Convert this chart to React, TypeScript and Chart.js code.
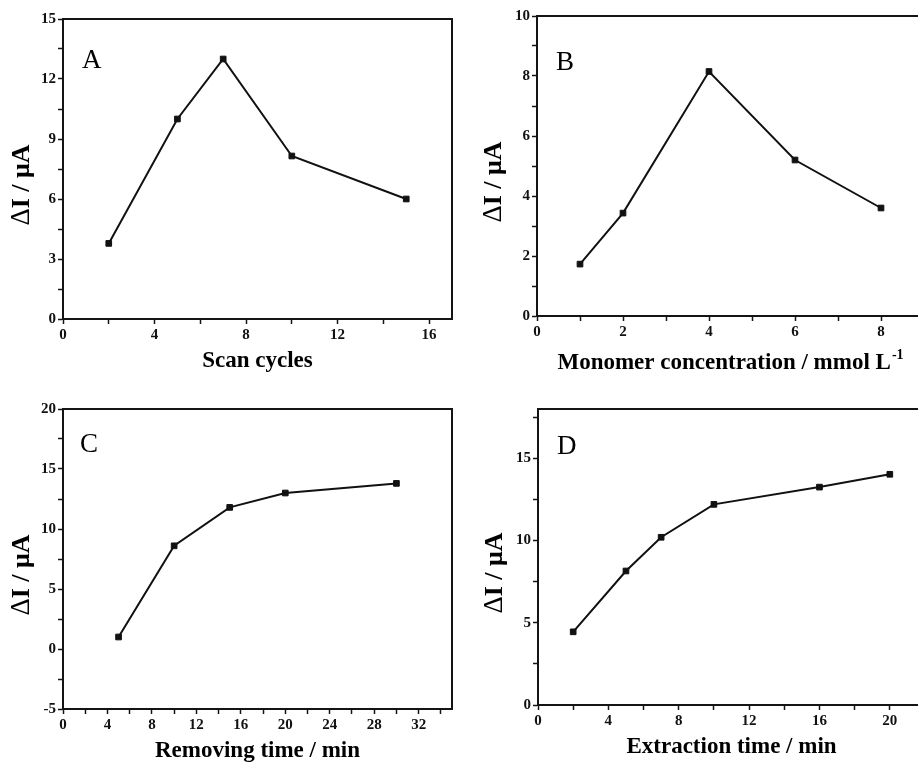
import React, { useEffect, useRef } from "react";
import { Chart, registerables } from "chart.js";

Chart.register(...registerables);

// ---- Data ----
const scanCycles = [2, 5, 7, 10, 15];
const scanCurrent = [3.78, 10.0, 13.0, 8.15, 6.0];

const monomerConc = [1, 2, 4, 6, 8];
const monomerCurrent = [1.73, 3.43, 8.15, 5.2, 3.6];

const removingTime = [5, 10, 15, 20, 30];
const removingCurrent = [1.0, 8.6, 11.8, 13.0, 13.8];

const extractionTime = [2, 5, 7, 10, 16, 20];
const extractionCurrent = [4.45, 8.15, 10.2, 12.2, 13.25, 14.03];

// ---- Tick values ----
const aXMajor = [0, 4, 8, 12, 16];
const aXMinor = [2, 6, 10, 14];
const aYMajor = [0, 3, 6, 9, 12, 15];
const aYMinor = [1.5, 4.5, 7.5, 10.5, 13.5];

const bXMajor = [0, 2, 4, 6, 8];
const bXMinor = [1, 3, 5, 7, 9];
const bYMajor = [0, 2, 4, 6, 8, 10];
const bYMinor = [1, 3, 5, 7, 9];

const cXMajor = [0, 4, 8, 12, 16, 20, 24, 28, 32];
const cXMinor = [2, 6, 10, 14, 18, 22, 26, 30, 34];
const cYMajor = [-5, 0, 5, 10, 15, 20];
const cYMinor = [-2.5, 2.5, 7.5, 12.5, 17.5];

const dXMajor = [0, 4, 8, 12, 16, 20];
const dXMinor = [2, 6, 10, 14, 18];
const dYMajor = [0, 5, 10, 15];
const dYMinor = [2.5, 7.5, 12.5, 17.5];

const yTitleSymbol = "Δ";
const yTitleRest = "I / μA";
const FONT = '"Liberation Serif", "Times New Roman", serif';
const INK = "#141414";

type Panel = {
  letter: string;
  xs: number[];
  ys: number[];
  xMin: number; xMax: number; yMin: number; yMax: number;
  xMajor: number[]; xMinor: number[]; yMajor: number[]; yMinor: number[];
  xTitle: string; xSup?: string;
  left: number; top: number; width: number; height: number;
  padTop: number; padRight: number; yWidth: number; xHeight: number;
  letterDx: number; letterDy: number;
  yTitleX: number; xTitleDy: number;
};

const panels: Panel[] = [
  {
    letter: "A", xs: scanCycles, ys: scanCurrent,
    xMin: 0, xMax: 17, yMin: 0, yMax: 15,
    xMajor: aXMajor, xMinor: aXMinor, yMajor: aYMajor, yMinor: aYMinor,
    xTitle: "Scan cycles",
    left: 0, top: 0, width: 460, height: 380,
    padTop: 19, padRight: 8, yWidth: 63, xHeight: 61,
    letterDx: 19, letterDy: 49, yTitleX: 22, xTitleDy: 48,
  },
  {
    letter: "B", xs: monomerConc, ys: monomerCurrent,
    xMin: 0, xMax: 9, yMin: 0, yMax: 10,
    xMajor: bXMajor, xMinor: bXMinor, yMajor: bYMajor, yMinor: bYMinor,
    xTitle: "Monomer concentration / mmol L", xSup: "-1",
    left: 460, top: 0, width: 475, height: 380,
    padTop: 16, padRight: 11, yWidth: 77, xHeight: 64,
    letterDx: 19, letterDy: 54, yTitleX: 34, xTitleDy: 53,
  },
  {
    letter: "C", xs: removingTime, ys: removingCurrent,
    xMin: 0, xMax: 35, yMin: -5, yMax: 20,
    xMajor: cXMajor, xMinor: cXMinor, yMajor: cYMajor, yMinor: cYMinor,
    xTitle: "Removing time / min",
    left: 0, top: 380, width: 460, height: 383,
    padTop: 29, padRight: 8, yWidth: 63, xHeight: 54,
    letterDx: 17, letterDy: 43, yTitleX: 22, xTitleDy: 48,
  },
  {
    letter: "D", xs: extractionTime, ys: extractionCurrent,
    xMin: 0, xMax: 22, yMin: 0, yMax: 18,
    xMajor: dXMajor, xMinor: dXMinor, yMajor: dYMajor, yMinor: dYMinor,
    xTitle: "Extraction time / min",
    left: 460, top: 380, width: 475, height: 383,
    padTop: 29, padRight: 10, yWidth: 78, xHeight: 58,
    letterDx: 19, letterDy: 45, yTitleX: 35, xTitleDy: 48,
  },
];

function near(list: number[], v: number) {
  return list.some((m) => Math.abs(m - v) < 1e-6);
}

function PanelChart({ p }: { p: Panel }) {
  const ref = useRef<HTMLCanvasElement | null>(null);
  useEffect(() => {
    if (!ref.current) return;
    const decor = {
      id: "decor" + p.letter,
      afterDraw(chart: any) {
        const { ctx, chartArea: a } = chart;
        ctx.save();
        // frame
        ctx.strokeStyle = INK;
        ctx.lineWidth = 2;
        ctx.strokeRect(a.left, a.top, a.right - a.left, a.bottom - a.top);
        ctx.fillStyle = "#000";
        // panel letter
        ctx.font = `27px ${FONT}`;
        ctx.textAlign = "left";
        ctx.textBaseline = "alphabetic";
        ctx.fillText(p.letter, a.left + p.letterDx, a.top + p.letterDy);
        // x title
        ctx.font = `bold 23px ${FONT}`;
        const mainW = ctx.measureText(p.xTitle).width;
        let supW = 0;
        if (p.xSup) {
          ctx.font = `bold 14px ${FONT}`;
          supW = ctx.measureText(p.xSup).width + 1;
        }
        const cx = (a.left + a.right) / 2;
        const x0 = cx - (mainW + supW) / 2;
        const by = a.bottom + p.xTitleDy;
        ctx.font = `bold 23px ${FONT}`;
        ctx.fillText(p.xTitle, x0, by);
        if (p.xSup) {
          ctx.font = `bold 14px ${FONT}`;
          ctx.fillText(p.xSup, x0 + mainW + 1, by - 10);
        }
        // y title (rotated): regular delta + bold rest
        ctx.translate(p.yTitleX, (a.top + a.bottom) / 2 + 16);
        ctx.rotate(-Math.PI / 2);
        ctx.textBaseline = "middle";
        ctx.textAlign = "left";
        ctx.font = `27px ${FONT}`;
        const w1 = ctx.measureText(yTitleSymbol).width;
        ctx.font = `bold 26px ${FONT}`;
        const w2 = ctx.measureText(yTitleRest).width;
        const sx = -(w1 + w2) / 2;
        ctx.font = `27px ${FONT}`;
        ctx.fillText(yTitleSymbol, sx, 0);
        ctx.font = `bold 26px ${FONT}`;
        ctx.fillText(yTitleRest, sx + w1, 0);
        ctx.restore();
      },
    };
    const tickFont = { family: FONT, size: 15, weight: "bold" as const };
    const chart = new Chart(ref.current, {
      type: "line",
      data: {
        datasets: [
          {
            data: p.xs.map((x, i) => ({ x, y: p.ys[i] })),
            borderColor: "#111",
            backgroundColor: "#111",
            borderWidth: 2,
            pointStyle: "rect",
            pointRadius: 4,
            pointBorderWidth: 1,
            tension: 0,
          },
        ],
      },
      options: {
        animation: false,
        responsive: false,
        events: [],
        layout: { padding: { top: p.padTop, right: p.padRight, left: 0, bottom: 0 } },
        plugins: { legend: { display: false }, tooltip: { enabled: false } },
        scales: {
          x: {
            type: "linear",
            min: p.xMin,
            max: p.xMax,
            afterBuildTicks: (s: any) => {
              s.ticks = [...p.xMajor, ...p.xMinor]
                .filter((v) => v >= p.xMin && v <= p.xMax)
                .sort((u, v) => u - v)
                .map((value) => ({ value }));
            },
            afterFit: (s: any) => { s.height = p.xHeight; },
            ticks: {
              autoSkip: false,
              maxRotation: 0,
              padding: 2,
              color: "#111",
              font: tickFont,
              callback: (v: any) => (near(p.xMajor, Number(v)) ? String(v) : ""),
            },
            grid: { drawOnChartArea: false, drawTicks: true, tickLength: 5, tickColor: INK, tickWidth: 1.5 },
            border: { display: true, color: INK, width: 2 },
          },
          y: {
            type: "linear",
            min: p.yMin,
            max: p.yMax,
            afterBuildTicks: (s: any) => {
              s.ticks = [...p.yMajor, ...p.yMinor]
                .filter((v) => v >= p.yMin && v <= p.yMax)
                .sort((u, v) => u - v)
                .map((value) => ({ value }));
            },
            afterFit: (s: any) => { s.width = p.yWidth; },
            ticks: {
              autoSkip: false,
              padding: 2,
              color: "#111",
              font: tickFont,
              callback: (v: any) => (near(p.yMajor, Number(v)) ? String(v) : ""),
            },
            grid: { drawOnChartArea: false, drawTicks: true, tickLength: 5, tickColor: INK, tickWidth: 1.5 },
            border: { display: true, color: INK, width: 2 },
          },
        },
      },
      plugins: [decor],
    });
    return () => chart.destroy();
  }, [p]);
  return (
    <canvas
      ref={ref}
      width={p.width}
      height={p.height}
      style={{ position: "absolute", left: p.left, top: p.top, width: p.width, height: p.height }}
    />
  );
}

export default function App() {
  return (
    <div
      style={{
        position: "fixed",
        left: 0,
        top: 0,
        width: 918,
        height: 763,
        overflow: "hidden",
        background: "#fff",
      }}
    >
      {panels.map((p) => (
        <PanelChart key={p.letter} p={p} />
      ))}
    </div>
  );
}
